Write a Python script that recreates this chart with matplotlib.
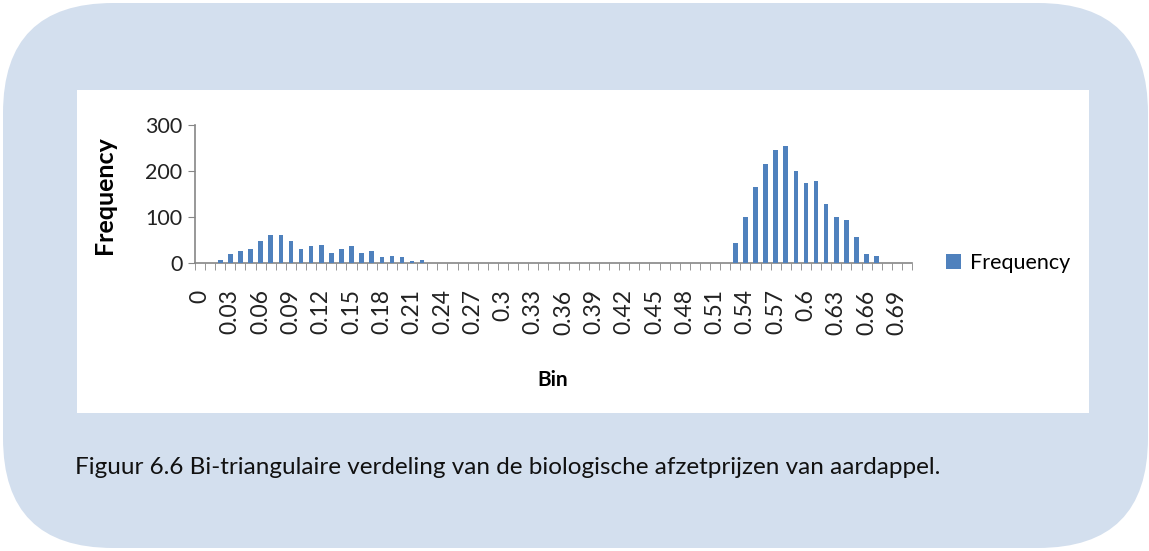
import matplotlib
matplotlib.use("Agg")
import matplotlib.pyplot as plt
from matplotlib.patches import FancyBboxPatch, Rectangle
from matplotlib.transforms import IdentityTransform
import numpy as np

# ---- data ----
bins = [round(i * 0.01, 2) for i in range(71)]
left_start = 0.02
left_freq = [7, 19, 27, 30, 48, 60, 60, 48, 30, 37, 39, 22, 30, 36, 22, 27, 13, 16, 13, 4, 7]
right_start = 0.53
right_freq = [43, 101, 165, 215, 245, 254, 201, 174, 178, 128, 101, 93, 57, 19, 16]
tick_labels = ["0", "0.03", "0.06", "0.09", "0.12", "0.15", "0.18", "0.21", "0.24", "0.27",
               "0.3", "0.33", "0.36", "0.39", "0.42", "0.45", "0.48", "0.51", "0.54", "0.57",
               "0.6", "0.63", "0.66", "0.69"]
yticks = [0, 100, 200, 300]
caption = "Figuur 6.6 Bi-triangulaire verdeling van de biologische afzetprijzen van aardappel."

freq = [0] * len(bins)
i0 = bins.index(left_start)
for k, v in enumerate(left_freq):
    freq[i0 + k] = v
i1 = bins.index(right_start)
for k, v in enumerate(right_freq):
    freq[i1 + k] = v

W, H = 1149, 551
plt.rcParams['font.family'] = ['Lato', 'DejaVu Sans']
fig = plt.figure(figsize=(W / 100, H / 100), dpi=100)
fig.patch.set_facecolor('white')

# rounded background box
bg = FancyBboxPatch((3 + 110, H - 548 + 110), 1145 - 220, 545 - 220,
                    boxstyle="round,pad=110", transform=IdentityTransform(),
                    facecolor='#D3DFEE', edgecolor='none', zorder=0)
fig.patches.append(bg)
# white chart area
fig.patches.append(Rectangle((77, H - 413), 1089 - 77, 413 - 90, transform=IdentityTransform(),
                             facecolor='white', edgecolor='none', zorder=1))

ax = fig.add_axes([195 / W, (H - 263) / H, (912 - 195) / W, (263 - 125) / H])
ax.set_facecolor('none')
ax.set_zorder(2)
x = np.arange(len(bins))
ax.bar(x, freq, width=0.45, color='#4F81BD', label='Frequency', zorder=3)
ax.set_xlim(-0.5, len(bins) - 0.5)
ax.set_ylim(0, 300)
ax.set_yticks(yticks)
ax.set_yticklabels([str(v) for v in yticks], fontsize=15.5, color='#222222')

major = [bins.index(float(t)) for t in tick_labels]
ax.set_xticks(major)
ax.set_xticklabels(tick_labels, rotation=90, fontsize=16.5, va='top', ha='center', color='#222222')
ax.set_xticks(np.arange(-0.5, len(bins) + 0.5, 1), minor=True)
ax.tick_params(axis='x', which='major', length=0, pad=19)
ax.tick_params(axis='x', which='minor', length=5, color='#868686', direction='out')
ax.tick_params(axis='y', length=5, color='#868686', direction='out', pad=4)

for s in ['top', 'right']:
    ax.spines[s].set_visible(False)
for s in ['left', 'bottom']:
    ax.spines[s].set_color('#868686')
    ax.spines[s].set_linewidth(1.2)

fig.text(104 / W, (H - 195) / H, 'Frequency', rotation=90, fontsize=18, fontweight='bold',
         ha='center', va='center')
fig.text(553 / W, (H - 380) / H, 'Bin', fontsize=15, fontweight='bold', ha='center', va='center')

leg = ax.legend(loc='center left', bbox_to_anchor=((946 - 195) / (912 - 195), 0.0), frameon=False,
                fontsize=15.5, handlelength=0.7, handleheight=0.7, handletextpad=0.4,
                borderaxespad=0, borderpad=0)

fig.text(75 / W, (H - 467) / H, caption, fontsize=17.5, ha='left', va='center', color='#111111')

fig.savefig('out.png', dpi=100, facecolor='white')
